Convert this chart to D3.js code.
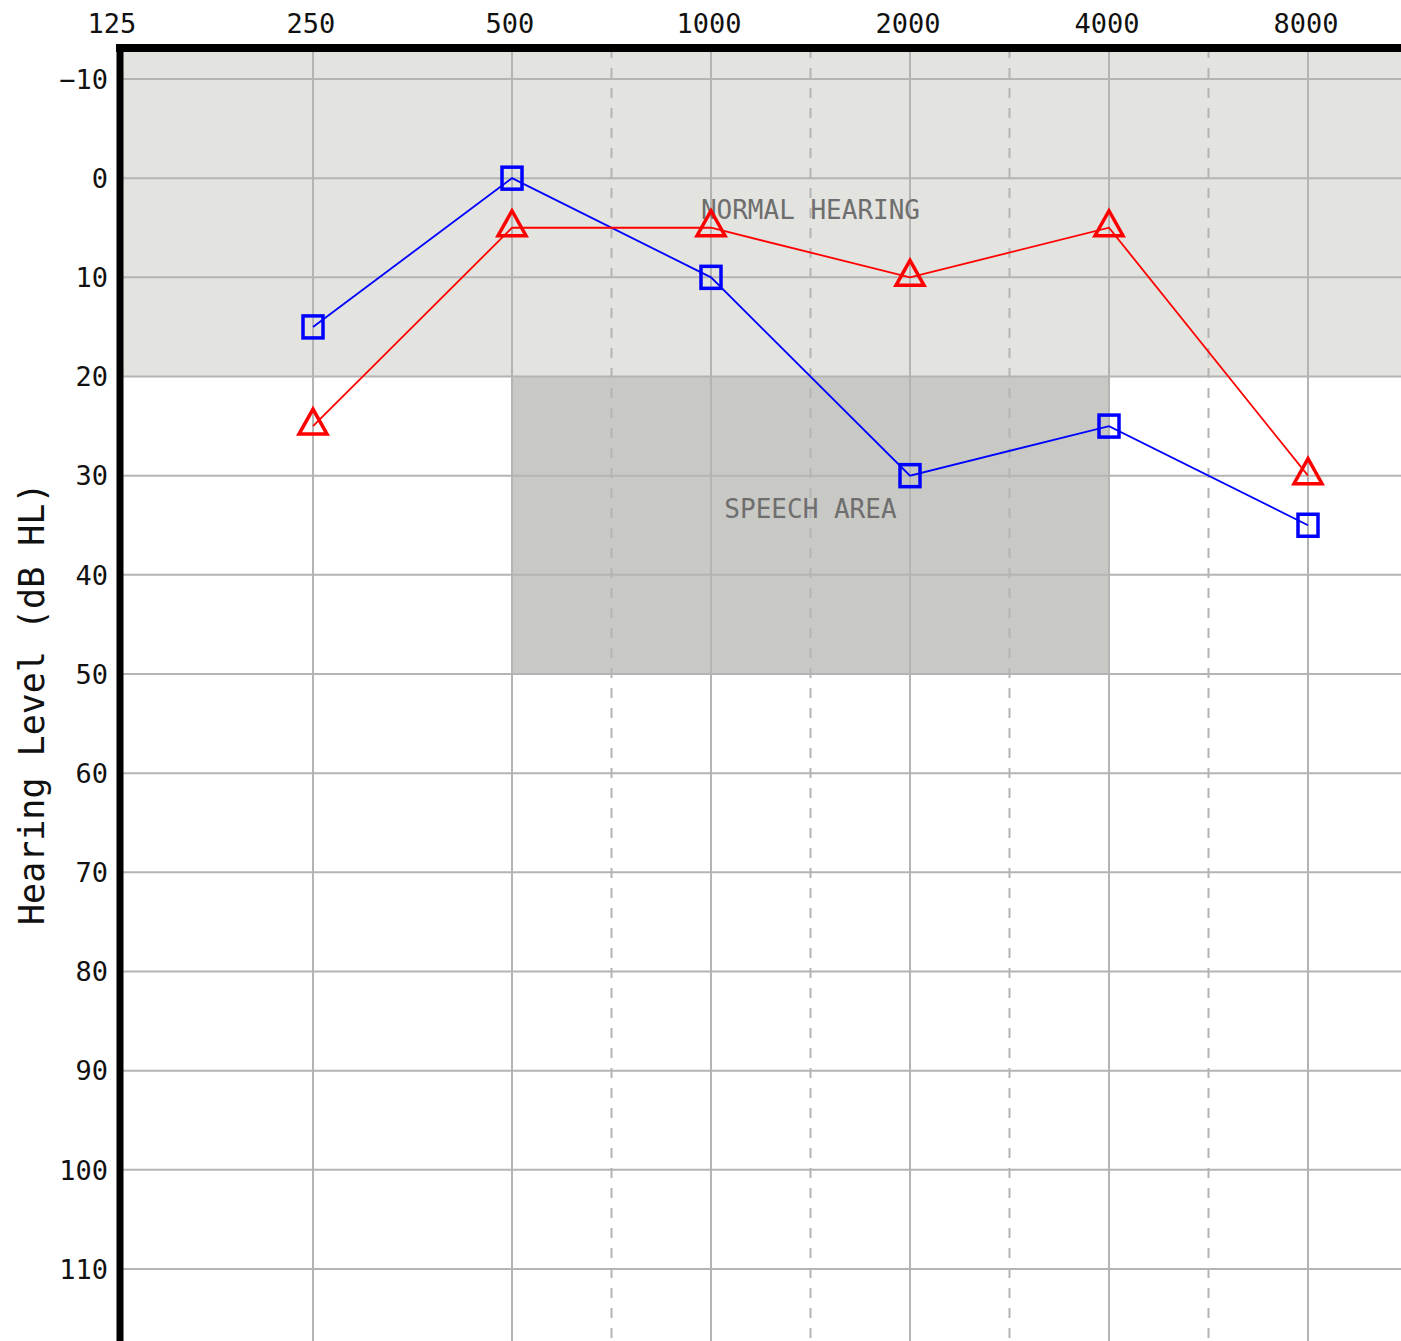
<!DOCTYPE html>
<html>
<head>
<meta charset="utf-8">
<script src="https://cdn.jsdelivr.net/npm/d3@7"></script>
<style>
    html, body { margin: 0; padding: 0; background: #fff; overflow: hidden; }
    svg { display: block; }
    text { font-family: 'DejaVu Sans Mono', 'Liberation Mono', monospace; }
</style>
</head>
<body>
<svg id='audio-svg' width='1401' height='1341'></svg>
<script>
// audiogram data
const frequencies = [125, 250, 500, 1000, 2000, 4000, 8000];
const levelTicks = [-10, 0, 10, 20, 30, 40, 50, 60, 70, 80, 90, 100, 110];
const testedFreqs = [250, 500, 1000, 2000, 4000, 8000];
const blueLevels = [15, 0, 10, 30, 25, 35];   // squares
const redLevels = [25, 5, 5, 10, 5, 30];      // triangles
const normalLimit = 20;                        // normal hearing: above 20 dB HL
const speechFreqs = [500, 4000];
const speechLevels = [20, 50];

const size = { width: 1401, height: 1341 };
const plot = { left: 120, top: 48, right: 1401, bottom: 1341 };

const svg = d3.select('#audio-svg');

const xScale = d3.scaleLog().base(2)
    .domain([125, 8000])
    .range([114, 1308]);

const yScale = d3.scaleLinear()
    .domain([-10, 110])
    .range([79, 1269]);

const yTop = yScale.invert(plot.top);

// normal hearing band
svg.append('rect')
    .attr('x', plot.left)
    .attr('y', yScale(yTop))
    .attr('width', plot.right - plot.left)
    .attr('height', yScale(normalLimit) - yScale(yTop))
    .attr('fill', '#e3e3e0');

// speech area
svg.append('rect')
    .attr('x', xScale(speechFreqs[0]))
    .attr('y', yScale(speechLevels[0]))
    .attr('width', xScale(speechFreqs[1]) - xScale(speechFreqs[0]))
    .attr('height', yScale(speechLevels[1]) - yScale(speechLevels[0]))
    .attr('fill', '#c8c8c5');

// grid
const grid = svg.append('g').attr('stroke', '#b4b4b4').attr('stroke-width', 2);

grid.selectAll('.hline')
    .data(levelTicks)
    .join('line')
    .attr('x1', plot.left).attr('x2', plot.right)
    .attr('y1', d => yScale(d)).attr('y2', d => yScale(d));

grid.selectAll('.vline')
    .data(frequencies.slice(1))
    .join('line')
    .attr('x1', d => xScale(d)).attr('x2', d => xScale(d))
    .attr('y1', plot.top).attr('y2', plot.bottom);

// half-octave dashed lines
const halfOctaves = frequencies.slice(2).map(f => f * Math.SQRT2);
grid.selectAll('.dline')
    .data(halfOctaves)
    .join('line')
    .attr('x1', d => xScale(d)).attr('x2', d => xScale(d))
    .attr('y1', plot.top).attr('y2', plot.bottom)
    .attr('stroke-dasharray', '10,10');

// region labels
svg.append('text')
    .attr('x', xScale(1414))
    .attr('y', yScale(3.2))
    .attr('dy', '0.36em')
    .attr('text-anchor', 'middle')
    .attr('fill', '#6e6e6e')
    .style('font-size', '26px')
    .text('NORMAL HEARING');

svg.append('text')
    .attr('x', xScale(1414))
    .attr('y', yScale(33.3))
    .attr('dy', '0.36em')
    .attr('text-anchor', 'middle')
    .attr('fill', '#6e6e6e')
    .style('font-size', '26px')
    .text('SPEECH AREA');

// series lines
const line = d3.line()
    .x((d, i) => xScale(testedFreqs[i]))
    .y(d => yScale(d));

svg.append('path')
    .datum(blueLevels)
    .attr('d', line)
    .attr('fill', 'none')
    .attr('stroke', '#0000ff')
    .attr('stroke-width', 1.8);

svg.append('path')
    .datum(redLevels)
    .attr('d', line)
    .attr('fill', 'none')
    .attr('stroke', '#ff0000')
    .attr('stroke-width', 1.8);

// markers
svg.append('g')
    .selectAll('rect')
    .data(blueLevels)
    .join('rect')
    .attr('x', (d, i) => xScale(testedFreqs[i]) - 10)
    .attr('y', d => yScale(d) - 11)
    .attr('width', 20)
    .attr('height', 22)
    .attr('fill', 'none')
    .attr('stroke', '#0000ff')
    .attr('stroke-width', 3.5);

svg.append('g')
    .selectAll('path')
    .data(redLevels)
    .join('path')
    .attr('transform', (d, i) => `translate(${xScale(testedFreqs[i])}, ${yScale(d)})`)
    .attr('d', 'M0,-17 L14,8 L-14,8 Z')
    .attr('fill', 'none')
    .attr('stroke', '#ff0000')
    .attr('stroke-width', 3.5)
    .attr('stroke-linejoin', 'miter');

// frame
svg.append('line')
    .attr('x1', plot.left - 4).attr('x2', plot.right)
    .attr('y1', plot.top).attr('y2', plot.top)
    .attr('stroke', '#000').attr('stroke-width', 8);

svg.append('line')
    .attr('x1', plot.left).attr('x2', plot.left)
    .attr('y1', plot.top).attr('y2', plot.bottom)
    .attr('stroke', '#000').attr('stroke-width', 7);

// axis labels
svg.append('g')
    .selectAll('text')
    .data(frequencies)
    .join('text')
    .attr('x', d => xScale(d) - 2)
    .attr('y', 33)
    .attr('text-anchor', 'middle')
    .attr('fill', '#111')
    .style('font-size', '27px')
    .text(d => d);

svg.append('g')
    .selectAll('text')
    .data(levelTicks)
    .join('text')
    .attr('x', 108)
    .attr('y', d => yScale(d))
    .attr('dy', '0.36em')
    .attr('text-anchor', 'end')
    .attr('fill', '#111')
    .style('font-size', '27px')
    .text(d => d3.format('d')(d));

svg.append('text')
    .attr('transform', `translate(44, ${yScale(53)}) rotate(-90)`)
    .attr('text-anchor', 'middle')
    .attr('fill', '#111')
    .style('font-size', '35px')
    .text('Hearing Level (dB HL)');
</script>
</body>
</html>
